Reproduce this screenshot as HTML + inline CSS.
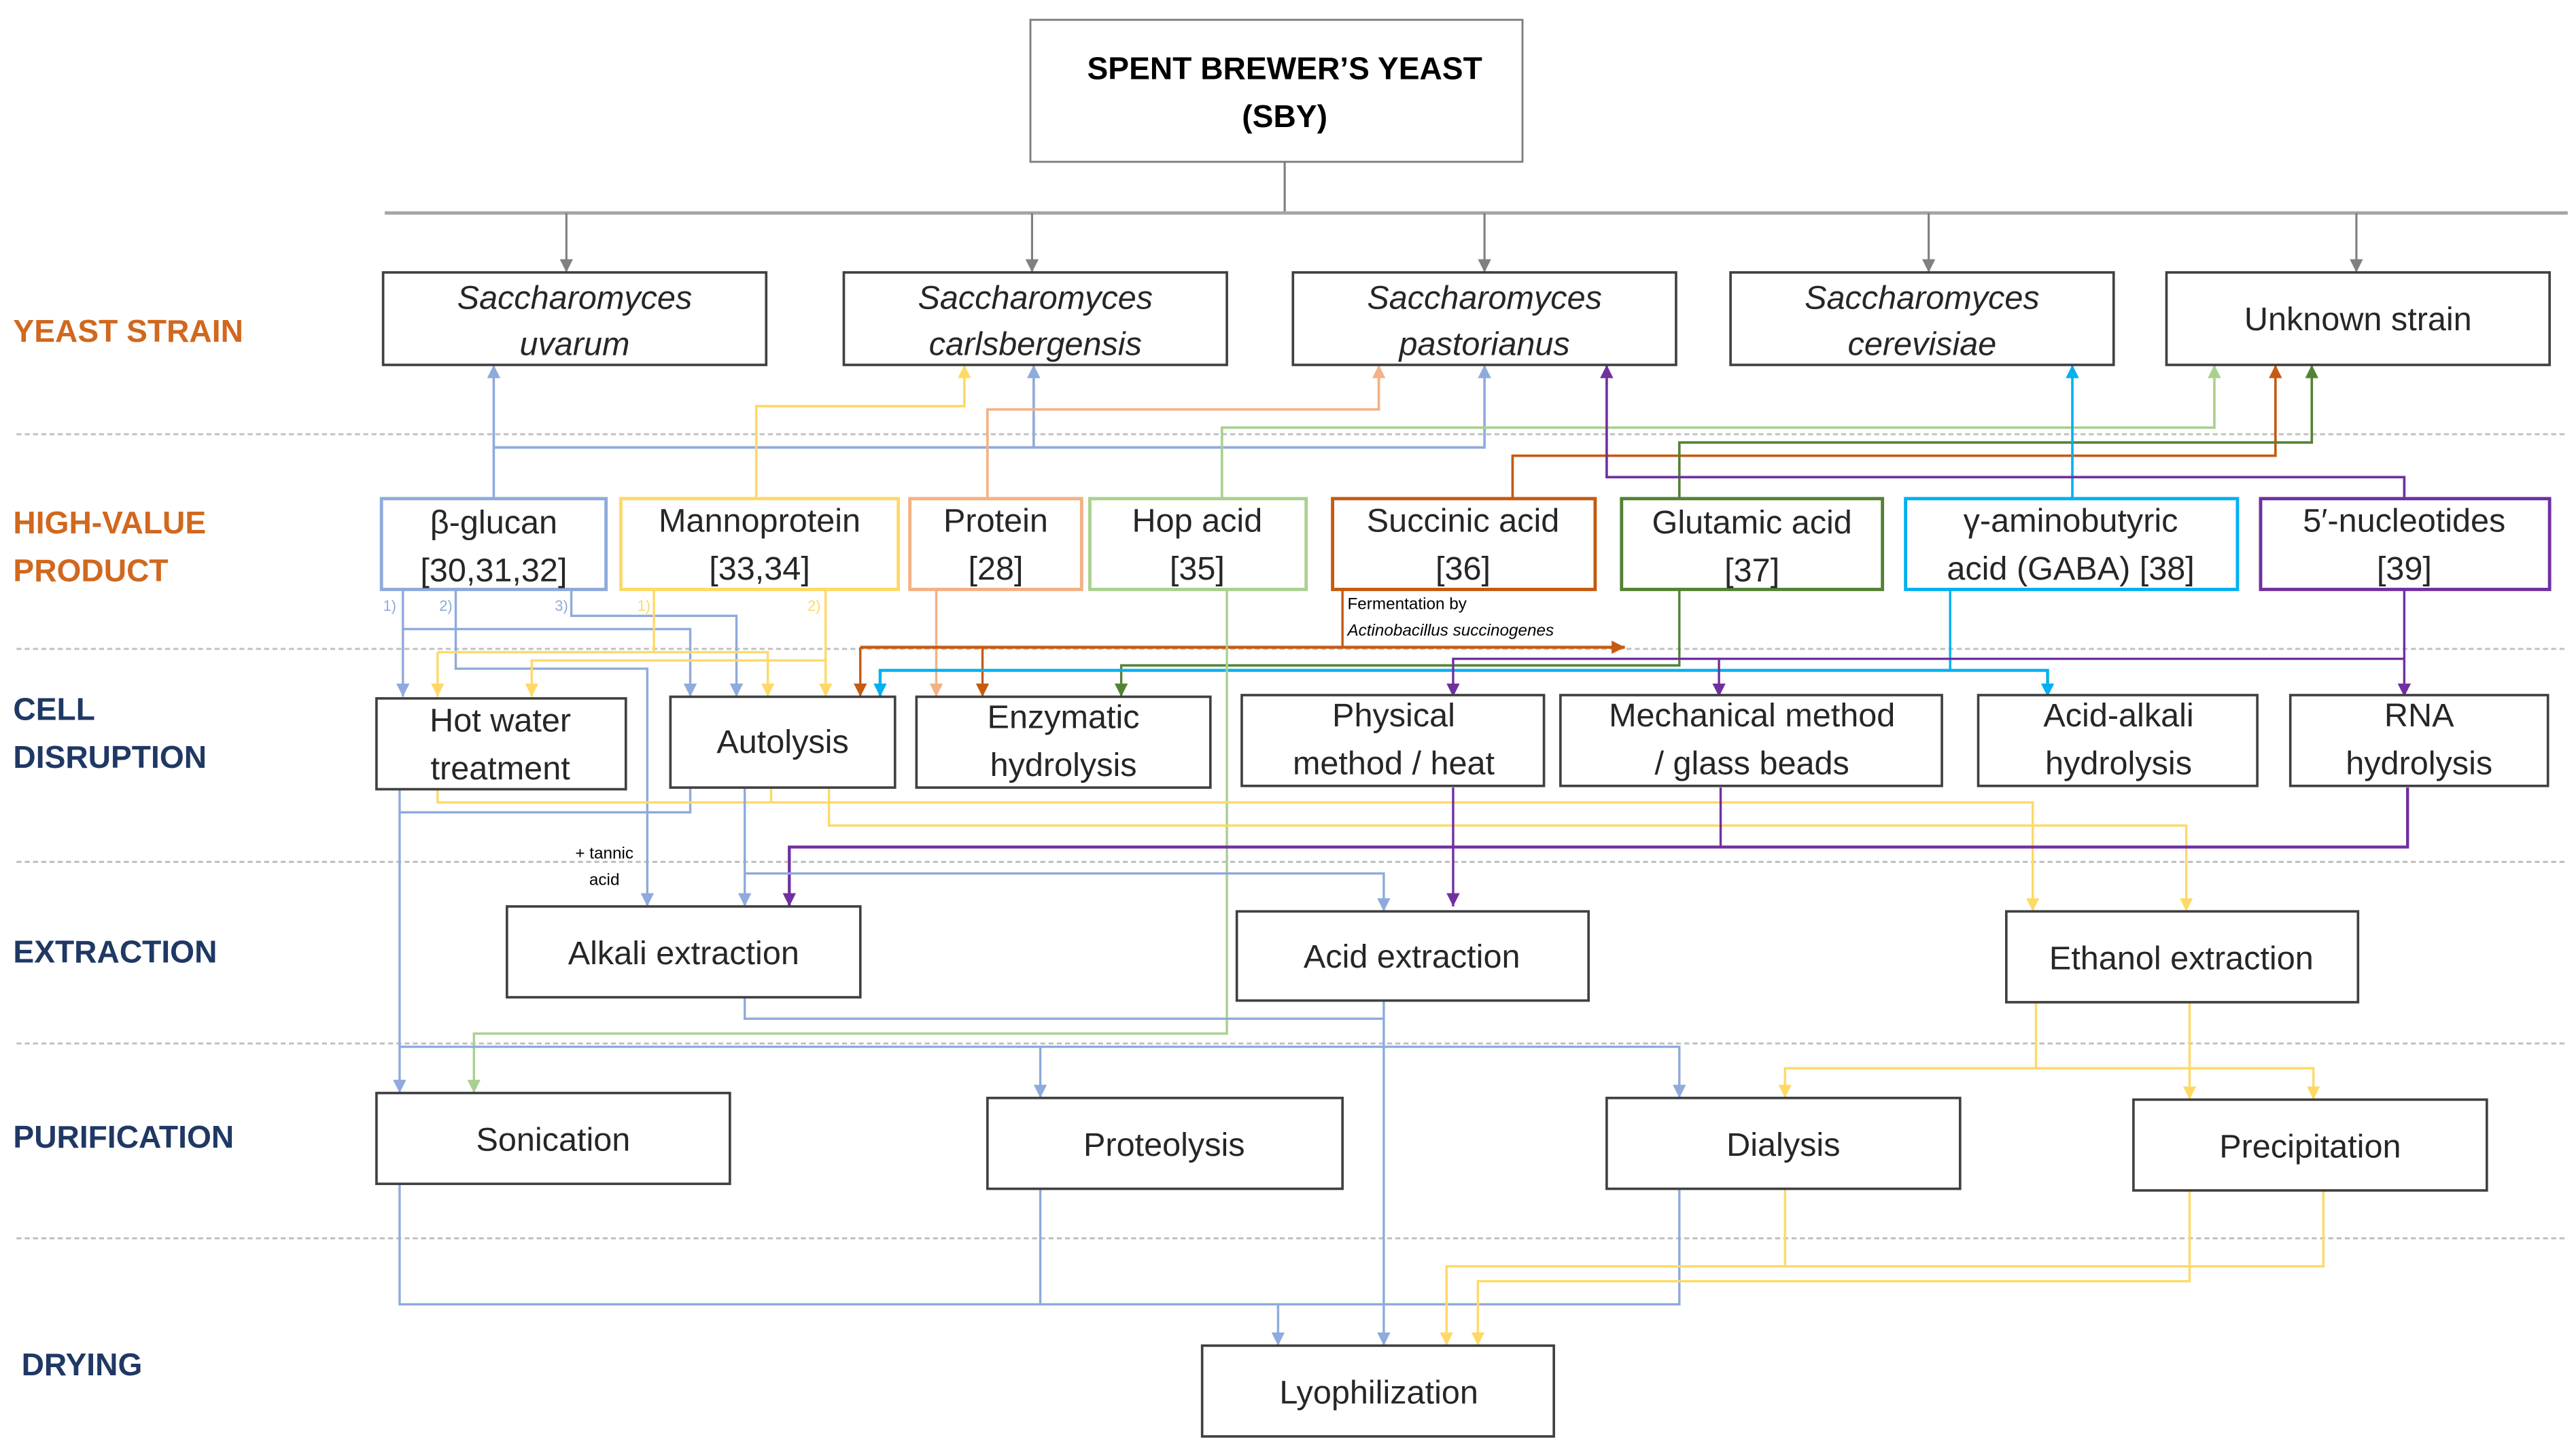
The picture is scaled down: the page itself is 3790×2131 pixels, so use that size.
<!DOCTYPE html>
<html><head><meta charset="utf-8"><style>
html,body{margin:0;padding:0;background:#fff;}
svg{display:block;}
text{font-family:"Liberation Sans",sans-serif;}
</style></head><body>
<svg width="3790" height="2131" viewBox="0 0 1560 877" preserveAspectRatio="none" xmlns="http://www.w3.org/2000/svg">
<defs>
<marker id="mg" markerWidth="8" markerHeight="10" refX="8" refY="4" orient="auto" markerUnits="userSpaceOnUse"><path d="M0,0 L8,4 L0,8z" fill="#808080"/></marker>
<marker id="mb" markerWidth="8" markerHeight="10" refX="8" refY="4" orient="auto" markerUnits="userSpaceOnUse"><path d="M0,0 L8,4 L0,8z" fill="#8faadc"/></marker>
<marker id="my" markerWidth="8" markerHeight="10" refX="8" refY="4" orient="auto" markerUnits="userSpaceOnUse"><path d="M0,0 L8,4 L0,8z" fill="#ffd966"/></marker>
<marker id="mp" markerWidth="8" markerHeight="10" refX="8" refY="4" orient="auto" markerUnits="userSpaceOnUse"><path d="M0,0 L8,4 L0,8z" fill="#f4b183"/></marker>
<marker id="mlg" markerWidth="8" markerHeight="10" refX="8" refY="4" orient="auto" markerUnits="userSpaceOnUse"><path d="M0,0 L8,4 L0,8z" fill="#a9d18e"/></marker>
<marker id="mo" markerWidth="8" markerHeight="10" refX="8" refY="4" orient="auto" markerUnits="userSpaceOnUse"><path d="M0,0 L8,4 L0,8z" fill="#c55a11"/></marker>
<marker id="mdg" markerWidth="8" markerHeight="10" refX="8" refY="4" orient="auto" markerUnits="userSpaceOnUse"><path d="M0,0 L8,4 L0,8z" fill="#548235"/></marker>
<marker id="mc" markerWidth="8" markerHeight="10" refX="8" refY="4" orient="auto" markerUnits="userSpaceOnUse"><path d="M0,0 L8,4 L0,8z" fill="#00b0f0"/></marker>
<marker id="mv" markerWidth="8" markerHeight="10" refX="8" refY="4" orient="auto" markerUnits="userSpaceOnUse"><path d="M0,0 L8,4 L0,8z" fill="#7030a0"/></marker>
</defs>

<!-- dashed separators -->
<g stroke="#bfbfbf" stroke-width="1.2" stroke-dasharray="3,2">
<line x1="10" y1="263" x2="1555" y2="263"/><line x1="10" y1="393" x2="1555" y2="393"/>
<line x1="10" y1="522" x2="1555" y2="522"/><line x1="10" y1="632" x2="1555" y2="632"/>
<line x1="10" y1="750" x2="1555" y2="750"/>
</g>

<!-- SBY -->
<g fill="none" stroke="#808080" stroke-width="1.3">
<line x1="778" y1="98" x2="778" y2="129"/>
<line x1="233" y1="129" x2="1555" y2="129" stroke="#a6a6a6" stroke-width="2"/>
<line x1="343" y1="129" x2="343" y2="165" marker-end="url(#mg)"/>
<line x1="625" y1="129" x2="625" y2="165" marker-end="url(#mg)"/>
<line x1="899" y1="129" x2="899" y2="165" marker-end="url(#mg)"/>
<line x1="1168" y1="129" x2="1168" y2="165" marker-end="url(#mg)"/>
<line x1="1427" y1="129" x2="1427" y2="165" marker-end="url(#mg)"/>
</g>
<rect x="624" y="12" width="298" height="86" fill="#fff" stroke="#7f7f7f" stroke-width="1.2"/>
<text x="778" y="48" font-size="19" font-weight="bold" text-anchor="middle">SPENT BREWER’S YEAST</text>
<text x="778" y="77" font-size="19" font-weight="bold" text-anchor="middle">(SBY)</text>

<!-- connectors product -> yeast -->
<g fill="none" stroke-width="1.5">
<polyline points="299,302 299,221" stroke="#8faadc" marker-end="url(#mb)"/>
<polyline points="299,271 899,271 899,221" stroke="#8faadc" marker-end="url(#mb)"/>
<polyline points="626,271 626,221" stroke="#8faadc" marker-end="url(#mb)"/>
<polyline points="458,302 458,246 584,246 584,221" stroke="#ffd966" marker-end="url(#my)"/>
<polyline points="598,302 598,248 835,248 835,221" stroke="#f4b183" marker-end="url(#mp)"/>
<polyline points="740,302 740,259 1341,259 1341,221" stroke="#a9d18e" marker-end="url(#mlg)"/>
<polyline points="916,302 916,276 1378,276 1378,221" stroke="#c55a11" marker-end="url(#mo)"/>
<polyline points="1017,302 1017,268 1400,268 1400,221" stroke="#548235" marker-end="url(#mdg)"/>
<polyline points="1255,302 1255,221" stroke="#00b0f0" marker-end="url(#mc)"/>
<polyline points="1456,302 1456,289 973,289 973,221" stroke="#7030a0" marker-end="url(#mv)"/>
</g>

<!-- product -> cell disruption -->
<g fill="none" stroke-width="1.4">
<polyline points="244,357 244,422" stroke="#8faadc" marker-end="url(#mb)"/>
<polyline points="244,381 418,381 418,422" stroke="#8faadc" marker-end="url(#mb)"/>
<polyline points="276,357 276,405 392,405 392,549" stroke="#8faadc" marker-end="url(#mb)"/>
<polyline points="346,357 346,373 446,373 446,422" stroke="#8faadc" marker-end="url(#mb)"/>
<polyline points="396,357 396,395" stroke="#ffd966"/>
<polyline points="265,395 265,422" stroke="#ffd966" marker-end="url(#my)"/>
<polyline points="265,395 465,395 465,422" stroke="#ffd966" marker-end="url(#my)"/>
<polyline points="500,357 500,422" stroke="#ffd966" marker-end="url(#my)"/>
<polyline points="322,422 322,400 500,400" stroke="#ffd966" marker-start="none"/>
<line x1="322" y1="405" x2="322" y2="422" stroke="#ffd966" marker-end="url(#my)"/>
<polyline points="567,357 567,422" stroke="#f4b183" marker-end="url(#mp)"/>
<polyline points="813,357 813,392" stroke="#c55a11"/>
<polyline points="521,392 984,392" stroke="#c55a11" stroke-width="1.8" marker-end="url(#mo)"/>
<polyline points="521,392 521,422" stroke="#c55a11" marker-end="url(#mo)"/>
<polyline points="595,392 595,422" stroke="#c55a11" marker-end="url(#mo)"/>
<polyline points="1017,357 1017,403 679,403 679,422" stroke="#548235" marker-end="url(#mdg)"/>
<polyline points="1181,357 1181,406" stroke="#00b0f0"/>
<polyline points="533,422 533,406 1240,406 1240,422" stroke="#00b0f0" stroke-width="1.8" marker-end="url(#mc)"/>
<line x1="533" y1="408" x2="533" y2="422" stroke="#00b0f0" marker-end="url(#mc)"/>
<polyline points="1456,357 1456,422" stroke="#7030a0" marker-end="url(#mv)"/>
<polyline points="1456,399 880,399 880,422" stroke="#7030a0" marker-end="url(#mv)"/>
<polyline points="1041,399 1041,422" stroke="#7030a0" marker-end="url(#mv)"/>
<!-- hop acid green long -->
<polyline points="743,357 743,626 287,626 287,662" stroke="#a9d18e" marker-end="url(#mlg)"/>
</g>

<!-- cell disruption -> extraction / purification -->
<g fill="none" stroke-width="1.4">
<polyline points="242,477 242,662" stroke="#8faadc" marker-end="url(#mb)"/>
<polyline points="418,477 418,492 242,492" stroke="#8faadc"/>
<polyline points="265,477 265,486 1231,486 1231,552" stroke="#ffd966" marker-end="url(#my)"/>
<polyline points="467,477 467,486" stroke="#ffd966"/>
<polyline points="502,477 502,500 1324,500 1324,552" stroke="#ffd966" marker-end="url(#my)"/>
<polyline points="1042,477 1042,513" stroke="#7030a0"/>
<polyline points="1458,477 1458,513 478,513 478,549" stroke="#7030a0" stroke-width="1.8" marker-end="url(#mv)"/>
<polyline points="451,477 451,549" stroke="#8faadc" marker-end="url(#mb)"/>
<polyline points="451,529 838,529 838,552" stroke="#8faadc" marker-end="url(#mb)"/>
<polyline points="880,477 880,549" stroke="#7030a0" marker-end="url(#mv)"/>
<polyline points="451,604 451,617 838,617" stroke="#8faadc"/>
<polyline points="838,606 838,815" stroke="#8faadc" marker-end="url(#mb)"/>
<polyline points="242,634 1017,634 1017,665" stroke="#8faadc" marker-end="url(#mb)"/>
<polyline points="630,634 630,665" stroke="#8faadc" marker-end="url(#mb)"/>
<polyline points="1233,607 1233,647" stroke="#ffd966"/>
<polyline points="1081,665 1081,647 1401,647 1401,666" stroke="#ffd966" marker-end="url(#my)"/>
<line x1="1081" y1="650" x2="1081" y2="665" stroke="#ffd966" marker-end="url(#my)"/>
<polyline points="1326,607 1326,666" stroke="#ffd966" marker-end="url(#my)"/>
<!-- to drying -->
<polyline points="242,717 242,790 1017,790 1017,720" stroke="#8faadc"/>
<polyline points="630,720 630,790" stroke="#8faadc"/>
<polyline points="774,790 774,815" stroke="#8faadc" marker-end="url(#mb)"/>
<polyline points="1081,720 1081,767" stroke="#ffd966"/>
<polyline points="876,815 876,767 1407,767 1407,721" stroke="#ffd966"/>
<line x1="876" y1="770" x2="876" y2="815" stroke="#ffd966" marker-end="url(#my)"/>
<polyline points="1326,721 1326,776 895,776 895,815" stroke="#ffd966" marker-end="url(#my)"/>
</g>

<!-- small labels -->
<g font-size="9" fill="#8faadc"><text x="232" y="370">1)</text><text x="266" y="370">2)</text><text x="336" y="370">3)</text></g>
<g font-size="9" fill="#ffd966"><text x="386" y="370">1)</text><text x="489" y="370">2)</text></g>
<text x="816" y="369" font-size="10">Fermentation by</text>
<text x="816" y="385" font-size="10" font-style="italic">Actinobacillus succinogenes</text>
<text x="366" y="520" font-size="10" text-anchor="middle">+ tannic</text>
<text x="366" y="536" font-size="10" text-anchor="middle">acid</text>

<!-- side labels -->
<g font-size="19" font-weight="bold">
<text x="8" y="207" fill="#d0681f">YEAST STRAIN</text>
<text x="8" y="323" fill="#d0681f">HIGH-VALUE</text>
<text x="8" y="352" fill="#d0681f">PRODUCT</text>
<text x="8" y="436" fill="#1f3864">CELL</text>
<text x="8" y="465" fill="#1f3864">DISRUPTION</text>
<text x="8" y="583" fill="#1f3864">EXTRACTION</text>
<text x="8" y="695" fill="#1f3864">PURIFICATION</text>
<text x="13" y="833" fill="#1f3864">DRYING</text>
</g>

<!-- yeast boxes -->
<g fill="#fff" stroke="#404040" stroke-width="1.5">
<rect x="232" y="165" width="232" height="56"/><rect x="511" y="165" width="232" height="56"/>
<rect x="783" y="165" width="232" height="56"/><rect x="1048" y="165" width="232" height="56"/>
<rect x="1312" y="165" width="232" height="56"/>
</g>
<g font-size="20" font-style="italic" text-anchor="middle" fill="#262626">
<text x="348" y="187">Saccharomyces</text><text x="348" y="215">uvarum</text>
<text x="627" y="187">Saccharomyces</text><text x="627" y="215">carlsbergensis</text>
<text x="899" y="187">Saccharomyces</text><text x="899" y="215">pastorianus</text>
<text x="1164" y="187">Saccharomyces</text><text x="1164" y="215">cerevisiae</text>
</g>
<text x="1428" y="200" font-size="20" text-anchor="middle" fill="#262626">Unknown strain</text>

<!-- product boxes -->
<g fill="#fff" stroke-width="2">
<rect x="231" y="302" width="136" height="55" stroke="#8faadc"/>
<rect x="376" y="302" width="168" height="55" stroke="#ffd966"/>
<rect x="551" y="302" width="104" height="55" stroke="#f4b183"/>
<rect x="660" y="302" width="131" height="55" stroke="#a9d18e"/>
<rect x="807" y="302" width="159" height="55" stroke="#c55a11"/>
<rect x="982" y="302" width="158" height="55" stroke="#548235"/>
<rect x="1154" y="302" width="201" height="55" stroke="#00b0f0"/>
<rect x="1369" y="302" width="175" height="55" stroke="#7030a0"/>
</g>
<g font-size="20" text-anchor="middle" fill="#262626">
<text x="299" y="323">β-glucan</text><text x="299" y="352">[30,31,32]</text>
<text x="460" y="322">Mannoprotein</text><text x="460" y="351">[33,34]</text>
<text x="603" y="322">Protein</text><text x="603" y="351">[28]</text>
<text x="725" y="322">Hop acid</text><text x="725" y="351">[35]</text>
<text x="886" y="322">Succinic acid</text><text x="886" y="351">[36]</text>
<text x="1061" y="323">Glutamic acid</text><text x="1061" y="352">[37]</text>
<text x="1254" y="322">γ-aminobutyric</text><text x="1254" y="351">acid (GABA) [38]</text>
<text x="1456" y="322">5′-nucleotides</text><text x="1456" y="351">[39]</text>
</g>

<!-- cell disruption boxes -->
<g fill="#fff" stroke="#404040" stroke-width="1.5">
<rect x="228" y="423" width="151" height="55"/><rect x="406" y="422" width="136" height="55"/>
<rect x="555" y="422" width="178" height="55"/><rect x="752" y="421" width="183" height="55"/>
<rect x="945" y="421" width="231" height="55"/><rect x="1198" y="421" width="169" height="55"/>
<rect x="1387" y="421" width="156" height="55"/>
</g>
<g font-size="20" text-anchor="middle" fill="#262626">
<text x="303" y="443">Hot water</text><text x="303" y="472">treatment</text>
<text x="474" y="456">Autolysis</text>
<text x="644" y="441">Enzymatic</text><text x="644" y="470">hydrolysis</text>
<text x="844" y="440">Physical</text><text x="844" y="469">method / heat</text>
<text x="1061" y="440">Mechanical method</text><text x="1061" y="469">/ glass beads</text>
<text x="1283" y="440">Acid-alkali</text><text x="1283" y="469">hydrolysis</text>
<text x="1465" y="440">RNA</text><text x="1465" y="469">hydrolysis</text>
</g>

<!-- extraction / purification / drying boxes -->
<g fill="#fff" stroke="#404040" stroke-width="1.5">
<rect x="307" y="549" width="214" height="55"/><rect x="749" y="552" width="213" height="54"/>
<rect x="1215" y="552" width="213" height="55"/>
<rect x="228" y="662" width="214" height="55"/><rect x="598" y="665" width="215" height="55"/>
<rect x="973" y="665" width="214" height="55"/><rect x="1292" y="666" width="214" height="55"/>
<rect x="728" y="815" width="213" height="55"/>
</g>
<g font-size="20" text-anchor="middle" fill="#262626">
<text x="414" y="584">Alkali extraction</text>
<text x="855" y="586">Acid extraction</text>
<text x="1321" y="587">Ethanol extraction</text>
<text x="335" y="697">Sonication</text>
<text x="705" y="700">Proteolysis</text>
<text x="1080" y="700">Dialysis</text>
<text x="1399" y="701">Precipitation</text>
<text x="835" y="850">Lyophilization</text>
</g>
</svg>
</body></html>
